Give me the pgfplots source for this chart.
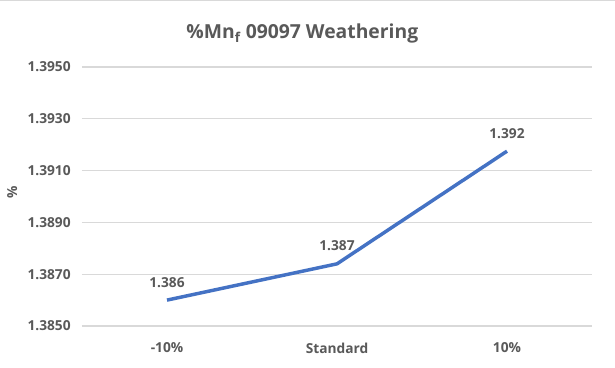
\documentclass[border=0pt]{standalone}
\usepackage{pgfplots}
\pgfplotsset{compat=1.18}
\usepackage{fontspec}
\setmainfont{Open Sans}
\definecolor{txt}{HTML}{595959}
\definecolor{gridc}{HTML}{D9D9D9}
\definecolor{linec}{HTML}{4472C4}
\begin{document}
\begin{tikzpicture}
\useasboundingbox (0pt,0pt) rectangle (461.25pt,276pt);
\fill[white] (0pt,0pt) rectangle (461.25pt,276pt);
\draw[gridc,line width=0.8pt] (0pt,276pt) -- (461.25pt,276pt);
\begin{axis}[
  at={(61.5pt,31.5pt)}, anchor=south west,
  scale only axis, width=382.5pt, height=194.25pt,
  xmin=-0.5, xmax=2.5, ymin=1.385, ymax=1.395,
  xtick={0,1,2}, xticklabels={-10\%,Standard,10\%},
  ytick={1.385,1.387,1.389,1.391,1.393,1.395},
  axis line style={draw=none},
  xtick style={draw=none}, ytick style={draw=none},
  major tick length=0pt,
  xmajorgrids=false, xminorgrids=false, ymajorgrids=true,
  x grid style={draw=none},
  y grid style={draw=gridc, line width=0.8pt},
  /pgf/number format/assume math mode=true,
  y tick label style={xshift=-5pt, /pgf/number format/fixed, /pgf/number format/fixed zerofill, /pgf/number format/precision=4},
  ticklabel style={font=\bfseries\fontsize{10.3}{12}\selectfont, text=txt},
  x tick label style={yshift=-9pt},
  ylabel={\%}, ylabel style={font=\bfseries\fontsize{10.3}{12}\selectfont, text=txt, at={(axis description cs:-0.137,0.517)}, anchor=center},
  title={\%Mn\textsubscript{f} 09097 Weathering},
  title style={font=\bfseries\fontsize{14.5}{17}\selectfont, text=txt, yshift=8pt, xshift=-26pt},
  nodes near coords,
  nodes near coords style={font=\bfseries\fontsize{10.3}{12}\selectfont, text=txt, yshift=5pt, /pgf/number format/fixed, /pgf/number format/fixed zerofill, /pgf/number format/precision=3},
  clip=false,
]
\addplot[linec, line width=2.6pt, mark=none, line join=round] coordinates {(0,1.38600) (1,1.38740) (2,1.39175)};
\end{axis}
\end{tikzpicture}
\end{document}
